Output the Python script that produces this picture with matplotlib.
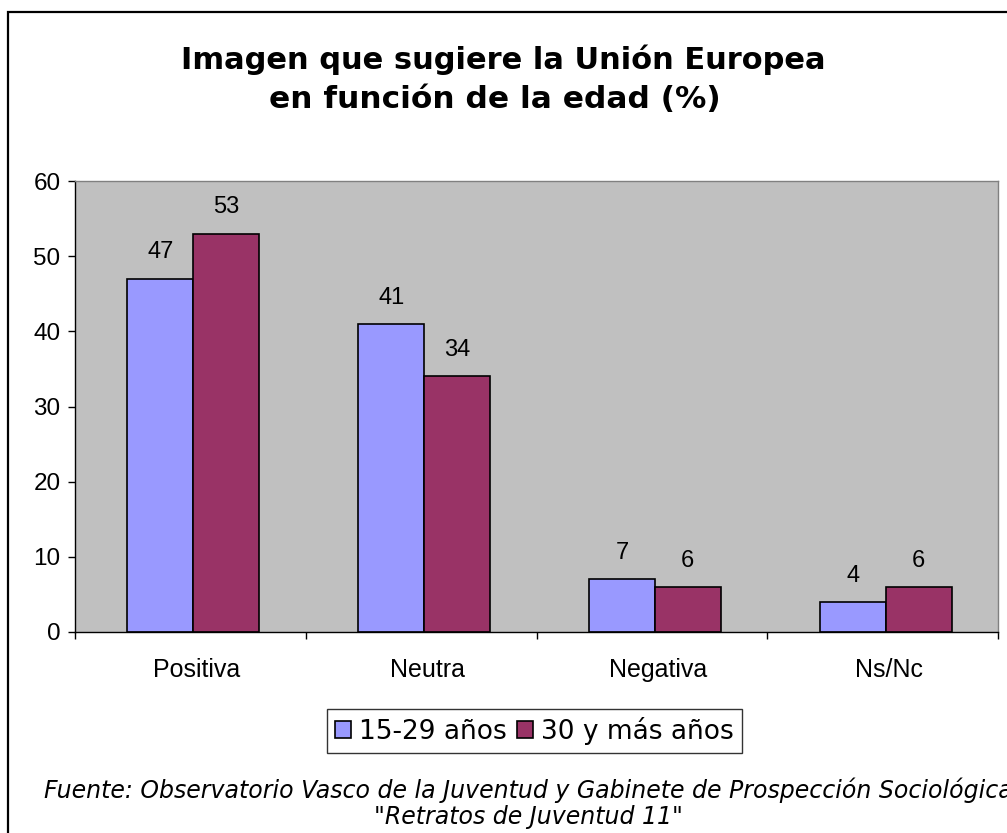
import matplotlib.pyplot as plt
from matplotlib.patches import Rectangle
import numpy as np

# data
categorias = ['Positiva', 'Neutra', 'Negativa', 'Ns/Nc']
jovenes = [47, 41, 7, 4]        # 15-29 años
mayores = [53, 34, 6, 6]        # 30 y más años
series = ['15-29 años', '30 y más años']
yticks = [0, 10, 20, 30, 40, 50, 60]

W, H = 1007, 833
fig = plt.figure(figsize=(W / 100, H / 100), dpi=100)
fig.patch.set_facecolor('white')

# chart frame (right and bottom edges fall outside the image)
fig.patches.append(Rectangle((8 / W, -0.05), 1.2, 1 - 12 / H + 0.05,
                             transform=fig.transFigure, fill=False,
                             edgecolor='black', linewidth=1.6))

ax = fig.add_axes([75 / W, 1 - 632 / H, (998 - 75) / W, (632 - 181) / H])
ax.set_facecolor('#C0C0C0')

x = np.arange(len(categorias))
w = 0.286
b1 = ax.bar(x - w / 2 + 0.013, jovenes, w, color='#9999FF', edgecolor='black',
            linewidth=1.2, label=series[0])
b2 = ax.bar(x + w / 2 + 0.013, mayores, w, color='#993366', edgecolor='black',
            linewidth=1.2, label=series[1])

for bars, vals in ((b1, jovenes), (b2, mayores)):
    for r, v in zip(bars, vals):
        ax.annotate(str(v), (r.get_x() + r.get_width() / 2, v),
                    xytext=(0, 11), textcoords='offset points',
                    ha='center', va='bottom', fontsize=17,
                    family='Liberation Sans')

ax.set_xlim(-0.5, len(categorias) - 0.5)
ax.set_ylim(0, 60)
ax.set_yticks(yticks)
ax.set_yticklabels([str(t) for t in yticks], family='Liberation Sans', fontsize=17.5)
ax.tick_params(axis='y', length=5, width=1, pad=5.5)

# group boundaries carry the tick marks, labels sit in the middle
ax.set_xticks(np.arange(len(categorias) + 1) - 0.5)
ax.set_xticklabels([])
ax.tick_params(axis='x', which='major', length=5, width=1)
ax.set_xticks(x + 0.027, minor=True)
ax.set_xticklabels(categorias, minor=True, family='Liberation Sans', fontsize=18)
ax.tick_params(axis='x', which='minor', length=0, pad=19)

for s in ('left', 'bottom'):
    ax.spines[s].set_color('black')
    ax.spines[s].set_linewidth(1)
for s in ('top', 'right'):
    ax.spines[s].set_color('#808080')
    ax.spines[s].set_linewidth(1)

fig.text(503 / W, 1 - 60 / H, 'Imagen que sugiere la Unión Europea',
         ha='center', va='center', fontsize=22, fontweight='bold',
         family='DejaVu Sans')
fig.text(495 / W, 1 - 100 / H, 'en función de la edad (%)',
         ha='center', va='center', fontsize=22.5, fontweight='bold',
         family='DejaVu Sans')

leg = fig.legend(loc='center', bbox_to_anchor=(534.5 / W, 1 - 731 / H), ncol=2,
                 prop={'family': 'DejaVu Sans', 'size': 19}, frameon=True,
                 fancybox=False, handlelength=0.6, handleheight=0.6,
                 handletextpad=0.3, columnspacing=0.4, borderpad=0.3,
                 borderaxespad=0)
leg.get_frame().set_edgecolor('black')
leg.get_frame().set_linewidth(1)

fig.text(528 / W, 1 - 790 / H,
         'Fuente: Observatorio Vasco de la Juventud y Gabinete de Prospección Sociológica',
         ha='center', va='center', fontsize=17, style='italic', family='DejaVu Sans')
fig.text(528 / W, 1 - 817 / H, '"Retratos de Juventud 11"',
         ha='center', va='center', fontsize=17, style='italic', family='DejaVu Sans')

fig.savefig('out.png', dpi=100)
